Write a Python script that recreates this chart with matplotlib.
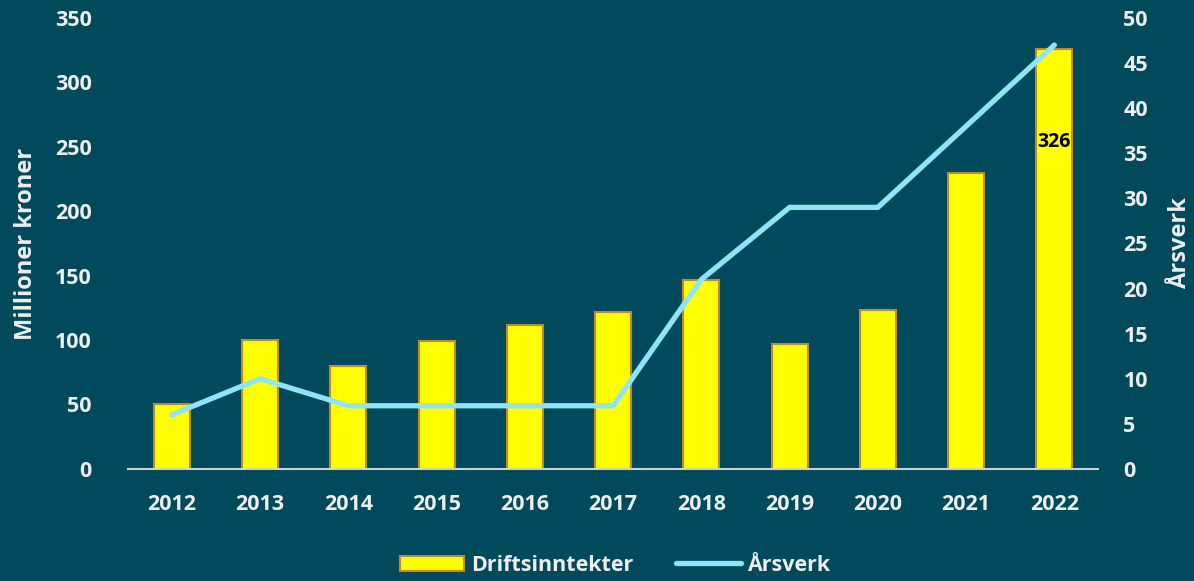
import numpy as np
import matplotlib
matplotlib.use('Agg')
import matplotlib.pyplot as plt
from matplotlib.lines import Line2D
from matplotlib.patches import Patch

# data
years = ['2012', '2013', '2014', '2015', '2016', '2017', '2018', '2019', '2020', '2021', '2022']
driftsinntekter = [50, 100, 80, 99, 112, 122, 147, 97, 123, 230, 326]
aarsverk = [6, 10, 7, 7, 7, 7, 21, 29, 29, 38, 47]
y_left_ticks = [0, 50, 100, 150, 200, 250, 300, 350]
y_right_ticks = [0, 5, 10, 15, 20, 25, 30, 35, 40, 45, 50]

bg = '#004a5c'
txt = '#eeeeee'
bar_col = '#ffff00'
bar_edge = '#c08a2a'
line_col = '#8ee4fb'

plt.rcParams['font.family'] = ['Open Sans', 'DejaVu Sans']
plt.rcParams['font.weight'] = 'bold'

fig = plt.figure(figsize=(11.94, 5.81), dpi=100, facecolor=bg)
ax = fig.add_axes([0.107, 0.193, 0.813, 0.776])
ax.set_facecolor(bg)

x = np.arange(len(years))
bars = ax.bar(x, driftsinntekter, width=0.41, color=bar_col, edgecolor=bar_edge, linewidth=1.5, zorder=2)
ax.set_xlim(-0.5, len(years) - 0.5)
ax.set_ylim(0, 350)
ax.set_yticks(y_left_ticks)
ax.set_xticks(x)
ax.set_xticklabels(years)

# label on last bar
ax.text(x[-1], 254, str(driftsinntekter[-1]), ha='center', va='center', fontsize=14,
        fontweight='bold', color='black', zorder=4)

ax2 = ax.twinx()
ax2.plot(x, aarsverk, color=line_col, linewidth=3.8, solid_capstyle='round', zorder=3)
ax2.set_ylim(0, 50)
ax2.set_yticks(y_right_ticks)

for a in (ax, ax2):
    for s in a.spines.values():
        s.set_visible(False)
    a.tick_params(length=0, colors=txt, labelsize=15.5)
ax.spines['bottom'].set_visible(True)
ax.spines['bottom'].set_color('#d0d0d0')
ax.spines['bottom'].set_linewidth(1.5)
ax.tick_params(axis='x', pad=18)
ax.tick_params(axis='y', pad=26)
ax2.tick_params(axis='y', pad=18)

ax.set_ylabel('Millioner kroner', color=txt, fontsize=17, fontweight='bold', labelpad=12)
ax2.set_ylabel('Årsverk', color=txt, fontsize=17, fontweight='bold', rotation=90, labelpad=14)

handles = [Patch(facecolor=bar_col, edgecolor=bar_edge, linewidth=1.5),
           Line2D([0], [0], color=line_col, linewidth=3.8, solid_capstyle='round')]
leg = fig.legend(handles, ['Driftsinntekter', 'Årsverk'], loc='center', bbox_to_anchor=(0.515, 0.027),
                 ncol=2, frameon=False, fontsize=15.5, handlelength=3.0, handletextpad=0.3,
                 columnspacing=2.0)
for t in leg.get_texts():
    t.set_color(txt)

fig.savefig('out.png', dpi=100, facecolor=bg)
